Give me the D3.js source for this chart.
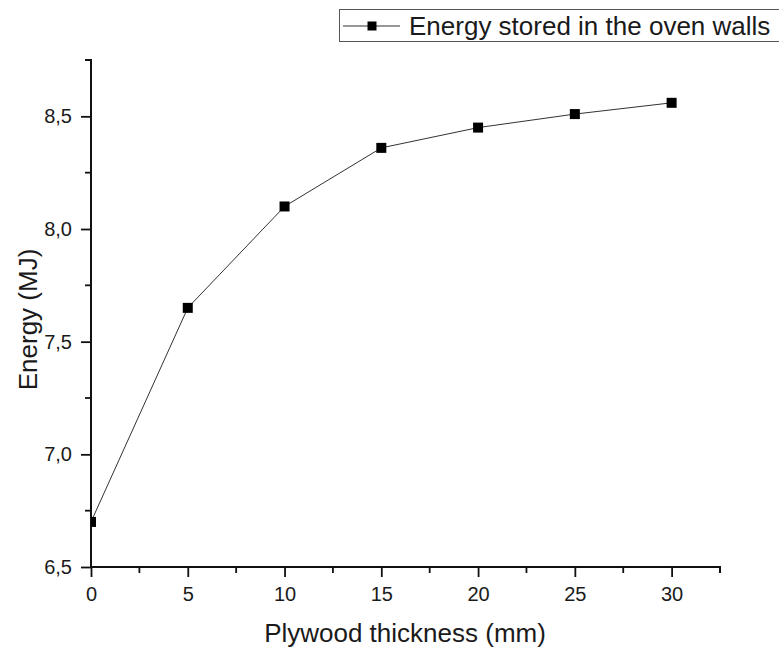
<!DOCTYPE html>
<html><head><meta charset="utf-8">
<script src="https://cdn.jsdelivr.net/npm/d3@7"></script>
<style>body{margin:0;background:#fff}svg{display:block}text{font-family:"Liberation Sans",Arial,sans-serif;fill:#1a1a1a}</style>
</head><body>
<script>
const thickness = [0, 5, 10, 15, 20, 25, 30];
const energy = [6.70, 7.65, 8.10, 8.36, 8.45, 8.51, 8.56];
const xTicks = [0, 5, 10, 15, 20, 25, 30];
const yTicks = [6.5, 7.0, 7.5, 8.0, 8.5];
const seriesName = "Energy stored in the oven walls";

const W = 779, H = 653;
const m = {left: 91, right: 59, top: 60, bottom: 86};
const svg = d3.select("body").append("svg").attr("width", W).attr("height", H);
const x = d3.scaleLinear().domain([0, 32.5]).range([m.left, W - m.right]);
const y = d3.scaleLinear().domain([6.5, 8.75]).range([H - m.bottom, m.top]);
const fmt = d => d3.format(".1f")(d).replace(".", ",");

svg.append("defs").append("clipPath").attr("id", "clip")
  .append("rect").attr("x", m.left).attr("y", 0).attr("width", W - m.right - m.left + 10).attr("height", H - m.bottom);

const xMinor = d3.range(2.5, 32.6, 5);
const yMinor = d3.range(6.75, 8.76, 0.5);
const gx = svg.append("g").attr("transform", `translate(0,${H - m.bottom})`)
  .call(d3.axisBottom(x).tickValues(xTicks).tickSize(10).tickPadding(10).tickFormat(d3.format("d")));
gx.selectAll("g.minor").data(xMinor).enter().append("line")
  .attr("x1", d => x(d)).attr("x2", d => x(d)).attr("y1", 0).attr("y2", 6).attr("stroke", "#111").attr("stroke-width", 1.8);
const gy = svg.append("g").attr("transform", `translate(${m.left},0)`)
  .call(d3.axisLeft(y).tickValues(yTicks).tickSize(10).tickPadding(9).tickFormat(fmt));
gy.selectAll("g.minor").data(yMinor).enter().append("line")
  .attr("y1", d => y(d)).attr("y2", d => y(d)).attr("x1", 0).attr("x2", -6).attr("stroke", "#111").attr("stroke-width", 1.8);
[gx, gy].forEach(g => {
  g.select(".domain").attr("stroke", "#111").attr("stroke-width", 2);
  g.selectAll(".tick line").attr("stroke", "#111").attr("stroke-width", 1.8);
  g.selectAll(".tick text").style("font-size", "20px").style("font-family", '"Liberation Sans",Arial,sans-serif').attr("fill", "#1a1a1a");
});
gx.select(".domain").attr("d", `M${x(0)},0H${x(32.5)}V6`);
gy.select(".domain").attr("d", `M0,${y(6.5)}V${y(8.75)}H-6`);

svg.append("text").attr("x", 405).attr("y", 642)
  .attr("text-anchor", "middle").style("font-size", "26px").text("Plywood thickness (mm)");
svg.append("text").attr("transform", `translate(37,${(m.top + H - m.bottom) / 2 + 6})rotate(-90)`)
  .attr("text-anchor", "middle").style("font-size", "26px").text("Energy (MJ)");

const pts = thickness.map((t, i) => [t, energy[i]]);
const plot = svg.append("g").attr("clip-path", "url(#clip)");
plot.append("path").datum(pts).attr("fill", "none").attr("stroke", "#333").attr("stroke-width", 1)
  .attr("d", d3.line().x(d => x(d[0])).y(d => y(d[1])));
plot.selectAll("rect.pt").data(pts).enter().append("rect")
  .attr("x", d => x(d[0]) - 5).attr("y", d => y(d[1]) - 5).attr("width", 10).attr("height", 10).attr("fill", "#000");

const lg = svg.append("g");
lg.append("rect").attr("x", 339.5).attr("y", 9.5).attr("width", 460).attr("height", 32)
  .attr("fill", "#fff").attr("stroke", "#555").attr("stroke-width", 1);
lg.append("line").attr("x1", 343).attr("x2", 400).attr("y1", 26).attr("y2", 26).attr("stroke", "#333").attr("stroke-width", 1.2);
lg.append("rect").attr("x", 367.5).attr("y", 21.5).attr("width", 9).attr("height", 9).attr("fill", "#000");
lg.append("text").attr("x", 409).attr("y", 35).style("font-size", "26px").text(seriesName);
</script>
</body></html>
